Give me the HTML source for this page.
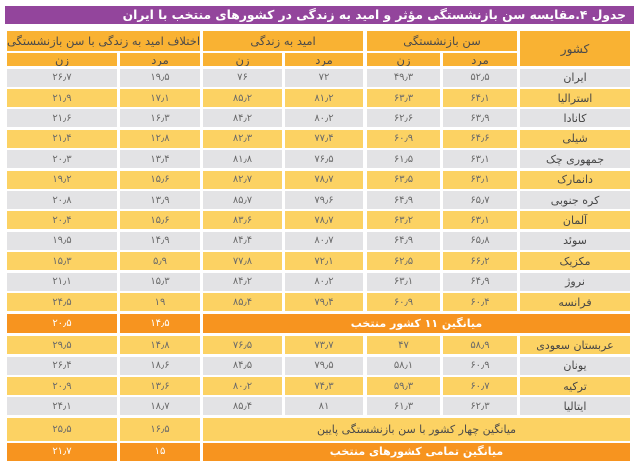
<!DOCTYPE html>
<html lang="fa" dir="rtl">
<head>
<meta charset="utf-8">
<style>
html,body{margin:0;padding:0;background:#fff;}
body{width:640px;height:469px;position:relative;overflow:hidden;font-family:"DejaVu Sans","Liberation Sans",sans-serif;}
.t{position:absolute;left:5px;width:629px;top:6px;height:18px;background:#93459c;color:#fff;font-weight:bold;font-size:12.3px;display:flex;align-items:center;justify-content:flex-start;box-sizing:border-box;direction:rtl;}
.t span{display:block;margin-right:8px;white-space:nowrap;}
.r{position:absolute;left:0;width:640px;}
.c{position:absolute;top:0;height:100%;display:flex;align-items:center;justify-content:center;white-space:nowrap;font-size:10px;color:#6a6a6a;direction:rtl;overflow:hidden;}
.c1{left:7px;width:110px}
.c2{left:120px;width:80px}
.c3{left:203px;width:79px}
.c4{left:285px;width:78px}
.c5{left:367px;width:73px}
.c6{left:443px;width:74px}
.c7{left:520px;width:110px;font-size:11px;color:#474747}
.g .c{background:#e3e3e5}
.y .c{background:#fcd263}
.o .c{background:#f7941f;color:#fff}
.h .c{background:#f9b233;color:#4a4a4a;font-size:11.5px}
.span35{left:203px;width:427px}
.o .span35{font-weight:bold;font-size:11px}
.y .span35{font-size:11px;color:#4a4a4a}
</style>
</head>
<body>
<div class="t"><span>جدول ۴.مقایسه سن بازنشستگی مؤثر و امید به زندگی در کشورهای منتخب با ایران</span></div>

<div class="r h" style="top:31px;height:20px">
  <div class="c" style="left:7px;width:193px">اختلاف امید به زندگی با سن بازنشستگی</div>
  <div class="c" style="left:203px;width:160px">امید به زندگی</div>
  <div class="c" style="left:367px;width:150px">سن بازنشستگی</div>
</div>
<div class="r h" style="top:31px;height:35px">
  <div class="c c7" style="font-size:12px;color:#4a4a4a">کشور</div>
</div>
<div class="r h" style="top:53px;height:13px">
  <div class="c c1">زن</div>
  <div class="c c2">مرد</div>
  <div class="c c3">زن</div>
  <div class="c c4">مرد</div>
  <div class="c c5">زن</div>
  <div class="c c6">مرد</div>
</div>

<div class="r g" style="top:68.5px;height:18px">
  <div class="c c7">ایران</div><div class="c c6">۵۲٫۵</div><div class="c c5">۴۹٫۳</div><div class="c c4">۷۲</div><div class="c c3">۷۶</div><div class="c c2">۱۹٫۵</div><div class="c c1">۲۶٫۷</div>
</div>
<div class="r y" style="top:89px;height:18px">
  <div class="c c7">استرالیا</div><div class="c c6">۶۴٫۱</div><div class="c c5">۶۳٫۳</div><div class="c c4">۸۱٫۲</div><div class="c c3">۸۵٫۲</div><div class="c c2">۱۷٫۱</div><div class="c c1">۲۱٫۹</div>
</div>
<div class="r g" style="top:109.3px;height:18px">
  <div class="c c7">کانادا</div><div class="c c6">۶۳٫۹</div><div class="c c5">۶۲٫۶</div><div class="c c4">۸۰٫۲</div><div class="c c3">۸۴٫۲</div><div class="c c2">۱۶٫۳</div><div class="c c1">۲۱٫۶</div>
</div>
<div class="r y" style="top:129.8px;height:18px">
  <div class="c c7">شیلی</div><div class="c c6">۶۴٫۶</div><div class="c c5">۶۰٫۹</div><div class="c c4">۷۷٫۴</div><div class="c c3">۸۲٫۳</div><div class="c c2">۱۲٫۸</div><div class="c c1">۲۱٫۴</div>
</div>
<div class="r g" style="top:150.2px;height:18px">
  <div class="c c7">جمهوری چک</div><div class="c c6">۶۳٫۱</div><div class="c c5">۶۱٫۵</div><div class="c c4">۷۶٫۵</div><div class="c c3">۸۱٫۸</div><div class="c c2">۱۳٫۴</div><div class="c c1">۲۰٫۳</div>
</div>
<div class="r y" style="top:170.6px;height:18px">
  <div class="c c7">دانمارک</div><div class="c c6">۶۳٫۱</div><div class="c c5">۶۳٫۵</div><div class="c c4">۷۸٫۷</div><div class="c c3">۸۲٫۷</div><div class="c c2">۱۵٫۶</div><div class="c c1">۱۹٫۲</div>
</div>
<div class="r g" style="top:191px;height:18px">
  <div class="c c7">کره جنوبی</div><div class="c c6">۶۵٫۷</div><div class="c c5">۶۴٫۹</div><div class="c c4">۷۹٫۶</div><div class="c c3">۸۵٫۷</div><div class="c c2">۱۳٫۹</div><div class="c c1">۲۰٫۸</div>
</div>
<div class="r y" style="top:211.4px;height:18px">
  <div class="c c7">آلمان</div><div class="c c6">۶۳٫۱</div><div class="c c5">۶۳٫۲</div><div class="c c4">۷۸٫۷</div><div class="c c3">۸۳٫۶</div><div class="c c2">۱۵٫۶</div><div class="c c1">۲۰٫۴</div>
</div>
<div class="r g" style="top:231.8px;height:18px">
  <div class="c c7">سوئد</div><div class="c c6">۶۵٫۸</div><div class="c c5">۶۴٫۹</div><div class="c c4">۸۰٫۷</div><div class="c c3">۸۴٫۴</div><div class="c c2">۱۴٫۹</div><div class="c c1">۱۹٫۵</div>
</div>
<div class="r y" style="top:252.2px;height:18px">
  <div class="c c7">مکزیک</div><div class="c c6">۶۶٫۲</div><div class="c c5">۶۲٫۵</div><div class="c c4">۷۲٫۱</div><div class="c c3">۷۷٫۸</div><div class="c c2">۵٫۹</div><div class="c c1">۱۵٫۳</div>
</div>
<div class="r g" style="top:272.6px;height:18px">
  <div class="c c7">نروژ</div><div class="c c6">۶۴٫۹</div><div class="c c5">۶۳٫۱</div><div class="c c4">۸۰٫۲</div><div class="c c3">۸۴٫۲</div><div class="c c2">۱۵٫۳</div><div class="c c1">۲۱٫۱</div>
</div>
<div class="r y" style="top:293px;height:18px">
  <div class="c c7">فرانسه</div><div class="c c6">۶۰٫۴</div><div class="c c5">۶۰٫۹</div><div class="c c4">۷۹٫۴</div><div class="c c3">۸۵٫۴</div><div class="c c2">۱۹</div><div class="c c1">۲۴٫۵</div>
</div>
<div class="r o" style="top:314px;height:19px">
  <div class="c span35">میانگین ۱۱ کشور منتخب</div><div class="c c2">۱۴٫۵</div><div class="c c1">۲۰٫۵</div>
</div>
<div class="r y" style="top:336px;height:18px">
  <div class="c c7">عربستان سعودی</div><div class="c c6">۵۸٫۹</div><div class="c c5">۴۷</div><div class="c c4">۷۳٫۷</div><div class="c c3">۷۶٫۵</div><div class="c c2">۱۴٫۸</div><div class="c c1">۲۹٫۵</div>
</div>
<div class="r g" style="top:356.6px;height:18px">
  <div class="c c7">یونان</div><div class="c c6">۶۰٫۹</div><div class="c c5">۵۸٫۱</div><div class="c c4">۷۹٫۵</div><div class="c c3">۸۴٫۵</div><div class="c c2">۱۸٫۶</div><div class="c c1">۲۶٫۴</div>
</div>
<div class="r y" style="top:377px;height:18px">
  <div class="c c7">ترکیه</div><div class="c c6">۶۰٫۷</div><div class="c c5">۵۹٫۳</div><div class="c c4">۷۴٫۳</div><div class="c c3">۸۰٫۲</div><div class="c c2">۱۳٫۶</div><div class="c c1">۲۰٫۹</div>
</div>
<div class="r g" style="top:397.4px;height:18px">
  <div class="c c7">ایتالیا</div><div class="c c6">۶۲٫۳</div><div class="c c5">۶۱٫۳</div><div class="c c4">۸۱</div><div class="c c3">۸۵٫۴</div><div class="c c2">۱۸٫۷</div><div class="c c1">۲۴٫۱</div>
</div>
<div class="r y" style="top:417.5px;height:23px">
  <div class="c span35">میانگین چهار کشور با سن بازنشستگی پایین</div><div class="c c2">۱۶٫۵</div><div class="c c1">۲۵٫۵</div>
</div>
<div class="r o" style="top:443px;height:17.5px">
  <div class="c span35">میانگین تمامی کشورهای منتخب</div><div class="c c2">۱۵</div><div class="c c1">۲۱٫۷</div>
</div>
</body>
</html>
